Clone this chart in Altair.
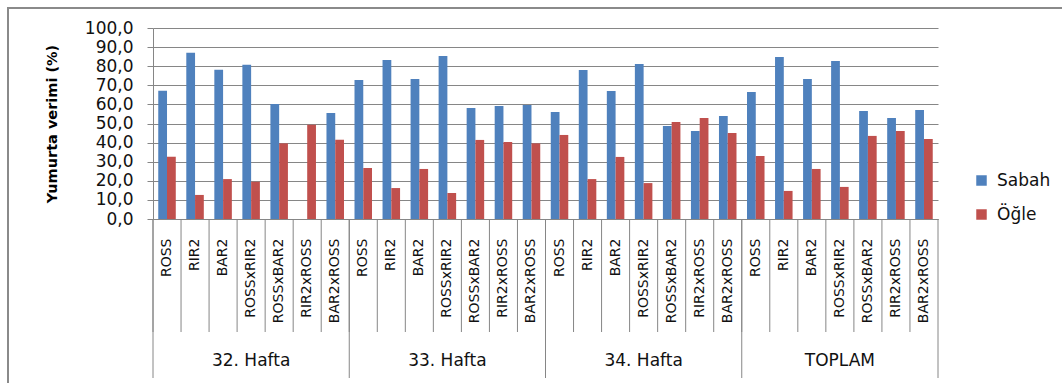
import altair as alt
import pandas as pd

# Categories
weeks = ["32. Hafta", "33. Hafta", "34. Hafta", "TOPLAM"]
breeds = ["ROSS", "RIR2", "BAR2", "ROSSxRIR2", "ROSSxBAR2", "RIR2xROSS", "BAR2xROSS"]
series = ["Sabah", "Öğle"]

# Egg yield (%) per breed, morning and noon collections
sabah_32 = [67.2, 87.1, 78.2, 80.8, 60.2, None, 55.5]
ogle_32 = [32.6, 12.6, 20.9, 19.5, 39.6, 49.4, 41.5]
sabah_33 = [72.8, 83.2, 73.3, 85.3, 58.1, 59.2, 59.7]
ogle_33 = [26.7, 16.2, 26.2, 13.6, 41.4, 40.3, 39.6]
sabah_34 = [56.0, 78.0, 67.0, 81.2, 48.7, 46.1, 53.9]
ogle_34 = [44.0, 20.9, 32.5, 18.8, 50.8, 52.9, 45.0]
sabah_top = [66.5, 84.8, 73.3, 82.7, 56.5, 52.9, 57.1]
ogle_top = [33.0, 14.7, 26.2, 16.8, 43.5, 46.1, 41.9]

y_ticks = list(range(0, 101, 10))

sabah_all = [sabah_32, sabah_33, sabah_34, sabah_top]
ogle_all = [ogle_32, ogle_33, ogle_34, ogle_top]

keys = [f"{w}|{b}" for w in weeks for b in breeds]

rows = []
for w, s_vals, o_vals in zip(weeks, sabah_all, ogle_all):
    for b, s, o in zip(breeds, s_vals, o_vals):
        rows.append({"key": f"{w}|{b}", "series": "Sabah", "value": s})
        rows.append({"key": f"{w}|{b}", "series": "Öğle", "value": o})
df = pd.DataFrame(rows)

df_keys = pd.DataFrame({"key": keys})
df_group_start = pd.DataFrame({"key": [f"{w}|{breeds[0]}" for w in weeks]})
df_last = pd.DataFrame({"key": [keys[-1]]})
df_groups = pd.DataFrame({"key": [f"{w}|{breeds[3]}" for w in weeks], "week": weeks})

W, H = 785, 191
GRAY = "#868686"
FONT = "DejaVu Sans"

xscale = alt.Scale(domain=keys, paddingInner=0, paddingOuter=0)
xaxis = alt.Axis(
    title=None, labelExpr="split(datum.value, '|')[1]",
    labelAngle=270, labelAlign="right", labelBaseline="middle",
    labelPadding=19, ticks=False, grid=False,
    domainColor=GRAY, domainWidth=1,
    labelFont=FONT, labelFontSize=14, labelColor="#111111",
)

bars = alt.Chart(df).mark_bar().encode(
    x=alt.X("key:N", sort=keys, scale=xscale, axis=xaxis),
    xOffset=alt.XOffset(
        "series:N", sort=series,
        scale=alt.Scale(domain=series, paddingInner=0, paddingOuter=0.6),
    ),
    y=alt.Y(
        "value:Q", scale=alt.Scale(domain=[0, 100]),
        axis=alt.Axis(
            title="Yumurta verimi (%)", values=y_ticks,
            labelExpr="replace(format(datum.value, '.1f'), '.', ',')",
            tickSize=6, tickColor=GRAY, domainColor=GRAY,
            gridColor=GRAY, gridWidth=1, labelPadding=14,
            labelFont=FONT, labelFontSize=17, labelColor="#111111",
            titleFont=FONT, titleFontWeight="bold", titleFontSize=14.5,
            titleColor="#000000", titleAngle=270, titleX=-101, titleY=H / 2,
            titleAlign="center", titleBaseline="middle",
        ),
    ),
    color=alt.Color(
        "series:N", sort=series,
        scale=alt.Scale(domain=series, range=["#4F81BD", "#C0504D"]),
        legend=alt.Legend(
            title=None, orient="none", legendX=820, legendY=144,
            symbolType="square", symbolSize=110, symbolStrokeWidth=0,
            labelFont=FONT, labelFontSize=17, labelColor="#111111",
            rowPadding=16, labelOffset=7,
        ),
    ),
)

# Short separators between category labels
cat_ticks = alt.Chart(df_keys).mark_rule(color=GRAY, strokeWidth=1).encode(
    x=alt.X("key:N", sort=keys, scale=xscale, bandPosition=0, axis=xaxis),
    y=alt.value(H), y2=alt.value(H + 113),
)

# Long separators between week groups
group_ticks = alt.Chart(df_group_start).mark_rule(color=GRAY, strokeWidth=1).encode(
    x=alt.X("key:N", sort=keys, scale=xscale, bandPosition=0, axis=xaxis),
    y=alt.value(H), y2=alt.value(H + 159),
)
end_tick = alt.Chart(df_last).mark_rule(color=GRAY, strokeWidth=1).encode(
    x=alt.X("key:N", sort=keys, scale=xscale, bandPosition=1, axis=xaxis),
    y=alt.value(H), y2=alt.value(H + 159),
)

group_labels = alt.Chart(df_groups).mark_text(
    font=FONT, fontSize=17, color="#111111", baseline="middle", align="center",
).encode(
    x=alt.X("key:N", sort=keys, scale=xscale, axis=xaxis),
    y=alt.value(H + 142),
    text="week:N",
)

# Outer frame of the chart area
frame = alt.Chart(pd.DataFrame({"f": [0]})).mark_rect(
    fillOpacity=0, stroke="#8a8a8a", strokeWidth=2,
).encode(
    x=alt.value(-145), x2=alt.value(W + 200),
    y=alt.value(-20), y2=alt.value(H + 200),
)

chart = alt.layer(bars, cat_ticks, group_ticks, end_tick, group_labels, frame).properties(
    width=W, height=H,
    autosize=alt.AutoSizeParams(type="none"),
    padding={"left": 153, "top": 28, "right": 124, "bottom": 164},
    background="white",
).configure_view(stroke=None)

chart.save("out.html", embed_options={"renderer": "svg", "actions": False})
